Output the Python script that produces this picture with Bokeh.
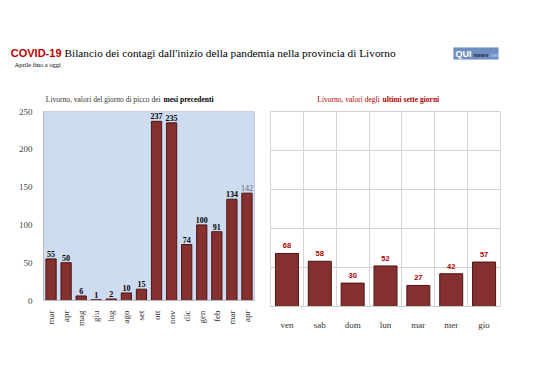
from bokeh.plotting import figure
from bokeh.layouts import column, row
from bokeh.models import (Range1d, FixedTicker, ColumnDataSource, Label, BoxAnnotation,
                          FactorRange)
from bokeh.embed import file_html
from bokeh.resources import INLINE

# ---------------- data ----------------
months = ["mar", "apr", "mag", "giu", "lug", "ago", "set", "ott", "nov", "dic",
          "gen", "feb", "mar", "apr"]
peak_values = [55, 50, 6, 1, 2, 10, 15, 237, 235, 74, 100, 91, 134, 142]

days = ["ven", "sab", "dom", "lun", "mar", "mer", "gio"]
week_values = [68, 58, 30, 52, 27, 42, 57]

y_ticks = [0, 50, 100, 150, 200, 250]

SERIF = "Liberation Serif"
SANS = "Liberation Sans"
BAR = "#83302f"
BAR_LINE = "#4e1414"

# ---------------- header ----------------
HW, HH = 530, 106
hdr = figure(width=HW, height=HH, x_range=Range1d(0, HW), y_range=Range1d(HH, 0),
             output_backend="svg", toolbar_location=None, min_border=0)
hdr.axis.visible = False
hdr.grid.visible = False
hdr.outline_line_color = None


def lab(p, x, y, text, size, color="#000000", font=SERIF, style="normal", align="left"):
    p.add_layout(Label(x=x, y=y, text=text, text_font=font, text_font_size=f"{size}px",
                       text_color=color, text_font_style=style, text_align=align,
                       text_baseline="middle"))


lab(hdr, 61, 52, "COVID-19", 11, "#c00000", SANS, "bold", "right")
lab(hdr, 64, 52, "Bilancio dei contagi dall'inizio della pandemia nella provincia di Livorno",
    11.3, "#000000")
lab(hdr, 14, 64, "Aprile fino a oggi", 6.5, "#000000")

lab(hdr, 162, 99, "Livorno, valori del giorno di picco dei ", 7.5, "#333333", align="right")
lab(hdr, 163, 99, "mesi precedenti", 7.5, "#000000", style="bold")
lab(hdr, 381, 99, "Livorno, valori degli ", 7.5, "#b00000", align="right")
lab(hdr, 382, 99, "ultimi sette giorni", 7.5, "#b00000", style="bold")

# logo
hdr.add_layout(BoxAnnotation(left=453, right=498, top=47, bottom=59,
                             fill_color="#6f8fc0", fill_alpha=1.0,
                             line_color="#9fb3d6", line_width=1))
lab(hdr, 455, 53.5, "QUI", 9, "#ffffff", SANS, "bold")
lab(hdr, 473, 54, "news", 6, "#1a2a4a", SANS, "bold")
lab(hdr, 488, 54, ".net", 6, "#c8d6ee", SANS, "normal")

# ---------------- left chart ----------------
n = len(months)
xs = list(range(n))
src_l = ColumnDataSource(dict(
    x=xs, top=peak_values, lbl=[str(v) for v in peak_values],
    col=["#000000"] * (n - 1) + ["#5a6070"],
    sty=["bold"] * (n - 1) + ["normal"],
))

pl = figure(frame_width=211, frame_height=189, x_range=Range1d(-0.5, n - 0.5),
            y_range=Range1d(0, 250),
            output_backend="svg", toolbar_location=None,
            min_border_left=43, min_border_right=11, min_border_top=5, min_border_bottom=72)
pl.border_fill_color = "#ffffff"
pl.add_layout(BoxAnnotation(fill_color="#cddcf1", fill_alpha=1, level="underlay",
                            line_color=None))
pl.vbar(x="x", top="top", width=0.68, source=src_l, fill_color=BAR, line_color=BAR_LINE,
        line_width=1)
pl.text(x="x", y="top", text="lbl", source=src_l, text_align="center", text_baseline="bottom",
        y_offset=-2, text_font={"value": SERIF}, text_font_size={"value": "8px"},
        text_color="col", text_font_style="sty")

pl.xaxis.ticker = FixedTicker(ticks=xs)
pl.xaxis.major_label_overrides = {i: m for i, m in enumerate(months)}
pl.xaxis.major_label_orientation = 3.14159265 / 2
pl.xaxis.major_label_text_font = SERIF
pl.xaxis.major_label_text_font_size = "9px"
pl.xaxis.major_label_text_color = "#333333"
pl.xaxis.major_label_standoff = 4
pl.xgrid.ticker = FixedTicker(ticks=[i + 0.5 for i in range(n - 1)])
pl.xgrid.grid_line_color = "#aaa4bb"
pl.xgrid.grid_line_alpha = 0.7

pl.yaxis.ticker = FixedTicker(ticks=y_ticks)
pl.yaxis.major_label_text_font = SERIF
pl.yaxis.major_label_text_font_size = "9px"
pl.yaxis.major_label_text_color = "#444444"
pl.yaxis.major_label_standoff = 5
pl.ygrid.grid_line_color = "#aaa4bb"
pl.ygrid.grid_line_alpha = 0.7

for ax in (pl.xaxis, pl.yaxis):
    ax.major_tick_line_color = None
    ax.minor_tick_line_color = None
    ax.axis_line_color = "#b8b8c8"
pl.outline_line_color = "#c8c8d8"

# ---------------- right chart ----------------
src_r = ColumnDataSource(dict(x=days, top=week_values, lbl=[str(v) for v in week_values]))
pr = figure(frame_width=230, frame_height=195, x_range=FactorRange(*days),
            y_range=Range1d(0, 250),
            output_backend="svg", toolbar_location=None,
            min_border_left=5, min_border_right=30, min_border_top=4, min_border_bottom=67)
pr.vbar(x="x", top="top", width=0.7, source=src_r, fill_color=BAR, line_color=BAR_LINE,
        line_width=1)
pr.text(x="x", y="top", text="lbl", source=src_r, text_align="center", text_baseline="bottom",
        y_offset=-5, text_font={"value": SANS}, text_font_size={"value": "7.5px"},
        text_color="#b00000", text_font_style="bold")
pr.yaxis.visible = False
pr.ygrid.ticker = FixedTicker(ticks=y_ticks)
pr.ygrid.grid_line_color = "#d4d4d4"
pr.xgrid.ticker = FixedTicker(ticks=[i + 1.0 for i in range(len(days) - 1)])
pr.xgrid.grid_line_color = "#d4d4d4"
pr.xaxis.major_label_text_font = SERIF
pr.xaxis.major_label_text_font_size = "9px"
pr.xaxis.major_label_text_color = "#333333"
pr.xaxis.major_label_standoff = 7
pr.xaxis.major_tick_line_color = None
pr.xaxis.minor_tick_line_color = None
pr.xaxis.axis_line_color = "#cccccc"
pr.outline_line_color = "#d4d4d4"

layout = column(hdr, row(pl, pr))
open("out.html", "w").write(file_html(layout, INLINE))
